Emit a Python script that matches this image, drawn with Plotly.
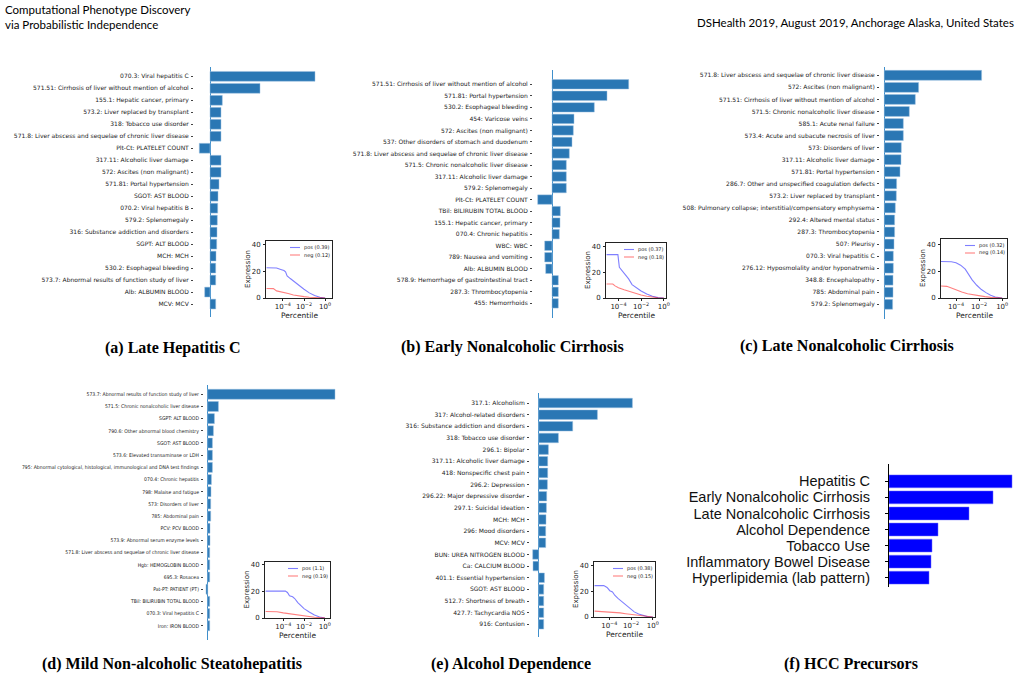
import plotly.graph_objects as go

W, H = 1021, 680

# ---------------- data ----------------
a_labels = ["070.3: Viral hepatitis C", "571.51: Cirrhosis of liver without mention of alcohol",
            "155.1: Hepatic cancer, primary", "573.2: Liver replaced by transplant",
            "318: Tobacco use disorder", "571.8: Liver abscess and sequelae of chronic liver disease",
            "Plt-Ct: PLATELET COUNT", "317.11: Alcoholic liver damage", "572: Ascites (non malignant)",
            "571.81: Portal hypertension", "SGOT: AST BLOOD", "070.2: Viral hepatitis B",
            "579.2: Splenomegaly", "316: Substance addiction and disorders", "SGPT: ALT BLOOD",
            "MCH: MCH", "530.2: Esophageal bleeding", "573.7: Abnormal results of function study of liver",
            "Alb: ALBUMIN BLOOD", "MCV: MCV"]
a_values = [1.05, 0.50, 0.123, 0.11, 0.11, 0.11, -0.107, 0.11, 0.11, 0.09, 0.08, 0.077, 0.073,
            0.07, 0.067, 0.06, 0.057, 0.057, -0.053, 0.057]

b_labels = ["571.51: Cirrhosis of liver without mention of alcohol", "571.81: Portal hypertension",
            "530.2: Esophageal bleeding", "454: Varicose veins", "572: Ascites (non malignant)",
            "537: Other disorders of stomach and duodenum",
            "571.8: Liver abscess and sequelae of chronic liver disease",
            "571.5: Chronic nonalcoholic liver disease", "317.11: Alcoholic liver damage",
            "579.2: Splenomegaly", "Plt-Ct: PLATELET COUNT", "TBil: BILIRUBIN TOTAL BLOOD",
            "155.1: Hepatic cancer, primary", "070.4: Chronic hepatitis", "WBC: WBC",
            "789: Nausea and vomiting", "Alb: ALBUMIN BLOOD",
            "578.9: Hemorrhage of gastrointestinal tract", "287.3: Thrombocytopenia", "455: Hemorrhoids"]
b_values = [0.767, 0.55, 0.423, 0.22, 0.213, 0.20, 0.173, 0.143, 0.143, 0.143, -0.143, 0.083,
            0.08, 0.073, -0.073, -0.073, -0.063, 0.063, 0.063, 0.063]

c_labels = ["571.8: Liver abscess and sequelae of chronic liver disease", "572: Ascites (non malignant)",
            "571.51: Cirrhosis of liver without mention of alcohol",
            "571.5: Chronic nonalcoholic liver disease", "585.1: Acute renal failure",
            "573.4: Acute and subacute necrosis of liver", "573: Disorders of liver",
            "317.11: Alcoholic liver damage", "571.81: Portal hypertension",
            "286.7: Other and unspecified coagulation defects", "573.2: Liver replaced by transplant",
            "508: Pulmonary collapse; interstitial/compensatory emphysema",
            "292.4: Altered mental status", "287.3: Thrombocytopenia", "507: Pleurisy",
            "070.3: Viral hepatitis C", "276.12: Hyposmolality and/or hyponatremia",
            "348.8: Encephalopathy", "785: Abdominal pain", "579.2: Splenomegaly"]
c_values = [0.973, 0.343, 0.31, 0.25, 0.19, 0.19, 0.17, 0.167, 0.157, 0.123, 0.12, 0.11, 0.103,
            0.103, 0.097, 0.09, 0.09, 0.087, 0.087, 0.083]

d_labels = ["573.7: Abnormal results of function study of liver",
            "571.5: Chronic nonalcoholic liver disease", "SGPT: ALT BLOOD",
            "790.6: Other abnormal blood chemistry", "SGOT: AST BLOOD",
            "573.6: Elevated transaminase or LDH",
            "795: Abnormal cytological, histological, immunological and DNA test findings",
            "070.4: Chronic hepatitis", "798: Malaise and fatigue", "573: Disorders of liver",
            "785: Abdominal pain", "PCV: PCV BLOOD", "573.9: Abnormal serum enzyme levels",
            "571.8: Liver abscess and sequelae of chronic liver disease", "Hgb: HEMOGLOBIN BLOOD",
            "695.3: Rosacea", "Pat-PT: PATIENT (PT)", "TBil: BILIRUBIN TOTAL BLOOD",
            "070.3: Viral hepatitis C", "Iron: IRON BLOOD"]
d_values = [1.273, 0.107, 0.067, 0.057, 0.047, 0.047, 0.047, 0.037, 0.033, 0.03, 0.03, 0.023,
            0.023, 0.02, 0.02, 0.02, -0.017, 0.02, 0.02, 0.02]

e_labels = ["317.1: Alcoholism", "317: Alcohol-related disorders",
            "316: Substance addiction and disorders", "318: Tobacco use disorder", "296.1: Bipolar",
            "317.11: Alcoholic liver damage", "418: Nonspecific chest pain", "296.2: Depression",
            "296.22: Major depressive disorder", "297.1: Suicidal ideation", "MCH: MCH",
            "296: Mood disorders", "MCV: MCV", "BUN: UREA NITROGEN BLOOD", "Ca: CALCIUM BLOOD",
            "401.1: Essential hypertension", "SGOT: AST BLOOD", "512.7: Shortness of breath",
            "427.7: Tachycardia NOS", "916: Contusion"]
e_values = [0.937, 0.587, 0.34, 0.197, 0.097, 0.09, 0.09, 0.087, 0.08, 0.077, 0.073, 0.07, 0.07,
            -0.06, -0.057, 0.057, 0.05, 0.05, 0.05, 0.05]

f_labels = ["Hepatitis C", "Early Nonalcoholic Cirrhosis", "Late Nonalcoholic Cirrhosis",
            "Alcohol Dependence", "Tobacco Use", "Inflammatory Bowel Disease",
            "Hyperlipidemia (lab pattern)"]
f_values = [12.3, 10.4, 8.0, 4.9, 4.3, 4.2, 4.0]

# inset curves: log10(percentile) and expression
a_pos_logp = [-5.55, -4.6, -4.2, -3.9, -3.75, -3.6, -3.3, -3.0, -2.5, -2.0, -1.5, -1.0, -0.5, 0.0]
a_pos_expr = [22.5, 22.4, 21.3, 20.5, 19.5, 16.5, 14.5, 12.5, 9.5, 6.5, 3.8, 1.8, 0.5, 0.0]
a_neg_logp = [-5.55, -4.9, -4.6, -4.0, -3.5, -3.0, -2.5, -2.0, -1.5, -1.0, -0.5, 0.0]
a_neg_expr = [7.1, 7.0, 5.3, 4.5, 3.3, 2.3, 1.5, 1.0, 0.6, 0.3, 0.1, 0.0]
a_legend = ["pos (0.39)", "neg (0.12)"]

b_pos_logp = [-5.05, -4.05, -3.92, -3.7, -3.4, -3.1, -2.8, -2.4, -2.0, -1.5, -1.0, -0.5, 0.0]
b_pos_expr = [34.0, 34.0, 24.0, 21.5, 18.5, 15.0, 10.5, 8.0, 5.5, 3.2, 1.3, 0.3, 0.0]
b_neg_logp = [-5.05, -4.5, -4.3, -4.0, -3.5, -3.0, -2.5, -2.0, -1.5, -1.0, -0.5, 0.0]
b_neg_expr = [11.0, 11.0, 9.5, 8.0, 6.5, 5.0, 3.6, 2.4, 1.4, 0.6, 0.2, 0.0]
b_legend = ["pos (0.37)", "neg (0.18)"]

c_pos_logp = [-5.3, -4.4, -4.0, -3.6, -3.2, -2.9, -2.6, -2.2, -1.8, -1.4, -1.0, -0.6, -0.2, 0.0]
c_pos_expr = [27.2, 27.0, 26.3, 24.5, 21.5, 17.5, 13.5, 9.5, 6.3, 4.0, 2.0, 0.8, 0.2, 0.0]
c_neg_logp = [-5.3, -4.8, -4.4, -4.0, -3.5, -3.0, -2.5, -2.0, -1.5, -1.0, -0.5, 0.0]
c_neg_expr = [9.0, 8.7, 7.5, 6.0, 4.5, 3.2, 2.3, 1.6, 1.0, 0.5, 0.2, 0.0]
c_legend = ["pos (0.32)", "neg (0.14)"]

d_pos_logp = [-5.7, -3.8, -3.6, -3.4, -3.1, -2.9, -2.6, -2.3, -2.0, -1.5, -1.0, -0.5, 0.0]
d_pos_expr = [20.0, 20.0, 19.0, 16.5, 15.8, 14.5, 11.5, 9.0, 7.0, 4.5, 2.2, 0.8, 0.0]
d_neg_logp = [-5.7, -4.6, -4.0, -3.5, -3.0, -2.5, -2.0, -1.5, -1.0, -0.5, 0.0]
d_neg_expr = [4.8, 4.6, 3.8, 3.2, 2.6, 2.0, 1.5, 1.0, 0.6, 0.3, 0.1]
d_legend = ["pos (1.1)", "neg (0.19)"]

e_pos_logp = [-5.35, -4.5, -4.2, -3.95, -3.7, -3.5, -3.2, -2.9, -2.5, -2.1, -1.7, -1.3, -0.9, -0.5, 0.0]
e_pos_expr = [24.5, 24.5, 23.0, 20.5, 19.5, 17.0, 14.5, 12.5, 9.5, 6.5, 4.0, 2.3, 1.0, 0.3, 0.0]
e_neg_logp = [-5.35, -4.5, -4.0, -3.5, -3.0, -2.5, -2.0, -1.5, -1.0, -0.5, 0.0]
e_neg_expr = [4.6, 4.3, 4.0, 3.6, 3.2, 2.6, 2.0, 1.3, 0.7, 0.3, 0.05]
e_legend = ["pos (0.38)", "neg (0.15)"]

captions = ["(a) Late Hepatitis C", "(b) Early Nonalcoholic Cirrhosis", "(c) Late Nonalcoholic Cirrhosis",
            "(d) Mild Non-alcoholic Steatohepatitis", "(e) Alcohol Dependence", "(f) HCC Precursors"]
header_left = "Computational Phenotype Discovery<br>via Probabilistic Independence"
header_right = "DSHealth 2019, August 2019, Anchorage Alaska, United States"

# ---------------- layout helpers ----------------
def dx(x0, x1):
    return [x0 / W, x1 / W]

def dy(y0, y1):
    return [1 - y1 / H, 1 - y0 / H]

fig = go.Figure()
layout = dict(width=W, height=H, margin=dict(l=0, r=0, t=0, b=0), paper_bgcolor="white",
              plot_bgcolor="rgba(0,0,0,0)", showlegend=False, barmode="overlay")
annotations = []
shapes = []

LABEL_FONT = dict(family="DejaVu Sans", size=6, color="#1a1a1a")
COND_FONT = dict(family="DejaVu Sans Condensed, DejaVu Sans", size=5.1, color="#1a1a1a")

bar_panels = [
    (a_labels, a_values, (194, 321, 67, 317), (-0.16, 1.11), (20.08, -0.78), LABEL_FONT),
    (b_labels, b_values, (533, 633, 70, 318), (-0.19, 0.81), (20.27, -1.24), LABEL_FONT),
    (c_labels, c_values, (880, 987, 67, 319), (-0.043, 1.027), (20.22, -0.69), LABEL_FONT),
    (d_labels, d_values, (204, 336, 385, 640), (-0.037, 1.283), (20.17, -0.76), COND_FONT),
    (e_labels, e_values, (530, 637.4, 393, 637), (-0.087, 0.987), (20.09, -0.86), LABEL_FONT),
]

for i, (labs, vals, box, xr, yr, font) in enumerate(bar_panels, start=1):
    x0, x1, y0, y1 = box
    fig.add_trace(go.Bar(x=vals, y=labs, orientation="h", width=0.82,
                         marker=dict(color="#2a77b4", line=dict(color="#9cc1e0", width=0.5)),
                         xaxis=f"x{i}", yaxis=f"y{i}"))
    layout[f"xaxis{i}"] = dict(domain=dx(x0, x1), range=list(xr), anchor=f"y{i}",
                               showticklabels=False, ticks="", showgrid=False, showline=False,
                               zeroline=True, zerolinecolor="#3f8fcb", zerolinewidth=1.4,
                               fixedrange=True)
    layout[f"yaxis{i}"] = dict(domain=dy(y0, y1), range=list(yr), anchor=f"x{i}",
                               type="category", tickmode="linear", tick0=0, dtick=1,
                               showgrid=False, showline=False, zeroline=False,
                               ticks="outside", ticklen=2, tickwidth=0.6, tickcolor="#444",
                               tickfont=font, ticklabelstandoff=1, automargin=False)

# panel f
fig.add_trace(go.Bar(x=f_values, y=f_labels, orientation="h", width=0.8,
                     marker=dict(color="#0000ff", line=dict(color="#6f6fff", width=0.5)),
                     xaxis="x6", yaxis="y6"))
layout["xaxis6"] = dict(domain=dx(889, 1016), range=[0, 12.7], anchor="y6", showticklabels=False,
                        ticks="", showgrid=False, showline=False, zeroline=False)
layout["yaxis6"] = dict(domain=dy(464, 587), range=[6.58, -1.08], anchor="x6", type="category",
                        tickmode="linear", tick0=0, dtick=1,
                        showgrid=False, showline=True, linecolor="black", linewidth=1.2,
                        zeroline=False, ticks="outside", ticklen=3, tickwidth=1, tickcolor="black",
                        tickfont=dict(family="Liberation Sans, Arial", size=14.5, color="#111"),
                        ticklabelstandoff=12, automargin=False)

# insets
insets = [
    (a_pos_logp, a_pos_expr, a_neg_logp, a_neg_expr, a_legend, (266, 332, 241, 298), (-5.6, 0.65), 42.5),
    (b_pos_logp, b_pos_expr, b_neg_logp, b_neg_expr, b_legend, (606, 666, 243, 298), (-5.1, 0.2), 43.1),
    (c_pos_logp, c_pos_expr, c_neg_logp, c_neg_expr, c_legend, (941, 1007, 239, 298), (-5.3, 0.42), 44.0),
    (d_pos_logp, d_pos_expr, d_neg_logp, d_neg_expr, d_legend, (265, 330, 562, 618), (-5.76, 0.5), 41.7),
    (e_pos_logp, e_pos_expr, e_neg_logp, e_neg_expr, e_legend, (594, 655, 562, 617), (-5.4, 0.2), 42.9),
]
TICK_FONT = dict(family="DejaVu Sans", size=7, color="#1a1a1a")
LEG_FONT = dict(family="DejaVu Sans", size=5, color="#222")
POS_COLOR = "rgba(0,0,255,0.5)"
NEG_COLOR = "rgba(255,0,0,0.5)"

for j, (pl, pe, nl, ne, leg, box, xr, ytop) in enumerate(insets):
    k = 7 + j
    x0, x1, y0, y1 = box
    bw, bh = x1 - x0, y1 - y0
    fig.add_trace(go.Scatter(x=[10 ** v for v in pl], y=pe, mode="lines",
                             line=dict(color=POS_COLOR, width=1.1), xaxis=f"x{k}", yaxis=f"y{k}"))
    fig.add_trace(go.Scatter(x=[10 ** v for v in nl], y=ne, mode="lines",
                             line=dict(color=NEG_COLOR, width=1.1), xaxis=f"x{k}", yaxis=f"y{k}"))
    layout[f"xaxis{k}"] = dict(domain=dx(x0, x1), type="log", range=list(xr), anchor=f"y{k}",
                               tickvals=[1e-4, 1e-2, 1],
                               ticktext=["10<sup>−4</sup>", "10<sup>−2</sup>", "10<sup>0</sup>"],
                               ticks="outside", ticklen=2, tickwidth=0.6, tickcolor="#222",
                               showline=True, mirror=True, linecolor="#222", linewidth=0.7,
                               showgrid=False, zeroline=False, tickfont=TICK_FONT,
                               ticklabelstandoff=0, automargin=False)
    layout[f"yaxis{k}"] = dict(domain=dy(y0, y1), range=[0, ytop], anchor=f"x{k}",
                               tickvals=[0, 20, 40], ticks="outside", ticklen=2, tickwidth=0.6,
                               tickcolor="#222", showline=True, mirror=True, linecolor="#222",
                               linewidth=0.7, showgrid=False, zeroline=False, tickfont=TICK_FONT,
                               ticklabelstandoff=1, automargin=False)
    annotations.append(dict(text="Percentile", xref=f"x{k} domain", yref=f"y{k} domain", x=0.5, y=0,
                            yshift=-17, xanchor="center", yanchor="middle", showarrow=False,
                            font=dict(family="DejaVu Sans", size=7.5, color="#1a1a1a")))
    annotations.append(dict(text="Expression", xref=f"x{k} domain", yref=f"y{k} domain", x=0, y=0.5,
                            xshift=-18.5, xanchor="center", yanchor="middle", textangle=-90,
                            showarrow=False, font=dict(family="DejaVu Sans", size=7, color="#1a1a1a")))
    for n, (txt, col) in enumerate(zip(leg, [POS_COLOR, NEG_COLOR])):
        yy = 1 - (6.5 + 7.5 * n) / bh
        annotations.append(dict(text=txt, xref=f"x{k} domain", yref=f"y{k} domain",
                                x=1 - 30 / bw, y=yy, xanchor="left", yanchor="middle",
                                showarrow=False, font=LEG_FONT))
        shapes.append(dict(type="line", xref=f"x{k} domain", yref=f"y{k} domain",
                           x0=1 - 42 / bw, x1=1 - 32 / bw, y0=yy, y1=yy,
                           line=dict(color=col, width=1.1)))

# captions
cap_pos = [(173, 348), (512, 347), (847, 346), (172, 664), (511, 664), (851, 664)]
for txt, (cx, cy) in zip(captions, cap_pos):
    annotations.append(dict(text=f"<b>{txt}</b>", xref="paper", yref="paper", x=cx / W, y=1 - cy / H,
                            xanchor="center", yanchor="middle", showarrow=False,
                            font=dict(family="Liberation Serif", size=16, color="black")))

annotations.append(dict(text=header_left, xref="paper", yref="paper", x=3 / W, y=1 - 1 / H,
                        xanchor="left", yanchor="top", align="left", showarrow=False,
                        font=dict(family="Lato", size=11.5, color="black")))
annotations.append(dict(text=header_right, xref="paper", yref="paper", x=1016 / W, y=1 - 23 / H,
                        xanchor="right", yanchor="middle", align="right", showarrow=False,
                        font=dict(family="Lato", size=11.5, color="black")))

layout["annotations"] = annotations
layout["shapes"] = shapes
fig.update_layout(**layout)
fig.write_html("out.html")
